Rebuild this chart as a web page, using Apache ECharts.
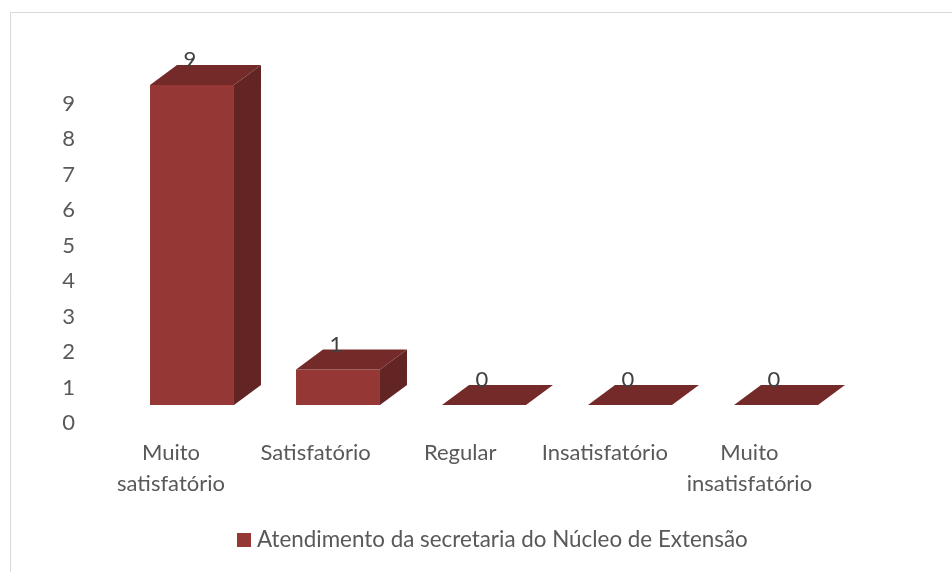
<!DOCTYPE html>
<html>
<head>
<meta charset="utf-8">
<script src="https://cdn.jsdelivr.net/npm/echarts@6/dist/echarts.min.js"></script>
<style>html,body{margin:0;padding:0;background:#fff;}#c{width:952px;height:572px;}</style>
</head>
<body>
<div id="c"></div>
<script>
const categories = ['Muito\nsatisfatório', 'Satisfatório', 'Regular', 'Insatisfatório', 'Muito\ninsatisfatório'];
const values = [9, 1, 0, 0, 0];
const yTicks = [0, 1, 2, 3, 4, 5, 6, 7, 8, 9];
const seriesName = 'Atendimento da secretaria do Núcleo de Extensão';

const FONT = 'Lato';
const FS = 22;
const chart = echarts.init(document.getElementById('c'), null, {renderer: 'canvas'});

const FRONT = '#953735', TOP = '#742a28', SIDE = '#632523';
const DX = 27, DY = -20;

function renderBar(params, api) {
  const xi = api.value(0), v = api.value(1);
  const base = api.coord([xi, 0]);
  const top = api.coord([xi, v]);
  const bw = api.size([1, 0])[0] * 0.575;
  const x0 = base[0] - bw / 2, x1 = base[0] + bw / 2;
  const yT = top[1], yB = base[1];
  const children = [];
  if (yB - yT > 0.5) {
    children.push({type: 'polygon', shape: {points: [[x1, yT], [x1 + DX, yT + DY], [x1 + DX, yB + DY], [x1, yB]]}, style: {fill: SIDE}});
    children.push({type: 'rect', shape: {x: x0, y: yT, width: bw, height: yB - yT}, style: {fill: FRONT}});
  }
  children.push({type: 'polygon', shape: {points: [[x0, yT], [x1, yT], [x1 + DX, yT + DY], [x0 + DX, yT + DY]]}, style: {fill: TOP}});
  children.push({type: 'text', style: {text: String(v), x: base[0] - 2, y: yT + DY - 5, align: 'center', verticalAlign: 'middle', font: FS + 'px ' + FONT, fill: '#404040'}});
  return {type: 'group', children: children};
}

chart.setOption({
  animation: false,
  backgroundColor: '#fff',
  graphic: [{type: 'rect', shape: {x: 10.5, y: 12.5, width: 1200, height: 1200}, style: {fill: 'none', stroke: '#d9d9d9', lineWidth: 1}, silent: true, z: -10}],
  legend: {
    left: 237, top: 529, padding: 0, itemWidth: 14, itemHeight: 14, itemGap: 10,
    icon: 'rect',
    textStyle: {fontFamily: FONT, fontSize: 22.4, color: '#595959', lineHeight: 22, padding: [0, 0, 0, 1]},
    data: [seriesName]
  },
  grid: [
    {left: 98.7, width: 723, top: 103.5, bottom: 149},
    {left: 119, width: 730, top: 85, bottom: 167}
  ],
  xAxis: [
    {type: 'category', gridIndex: 0, data: categories, axisLine: {show: false}, axisTick: {show: false},
     axisLabel: {fontFamily: FONT, fontSize: FS, color: '#595959', lineHeight: 31, margin: 14, interval: 0}},
    {type: 'category', gridIndex: 1, data: categories, show: false}
  ],
  yAxis: [
    {type: 'value', gridIndex: 0, min: 0, max: 9, interval: 1, axisLine: {show: false}, axisTick: {show: false}, splitLine: {show: false},
     axisLabel: {fontFamily: FONT, fontSize: FS, color: '#595959', margin: 23.7,
       formatter: function (val) { return yTicks.indexOf(val) >= 0 ? String(val) : ''; }}},
    {type: 'value', gridIndex: 1, min: 0, max: 9, show: false}
  ],
  series: [{
    type: 'custom', name: seriesName, xAxisIndex: 1, yAxisIndex: 1,
    itemStyle: {color: FRONT},
    renderItem: renderBar,
    data: values.map(function (v, i) { return [i, v]; }),
    clip: false
  }]
});
</script>
</body>
</html>
